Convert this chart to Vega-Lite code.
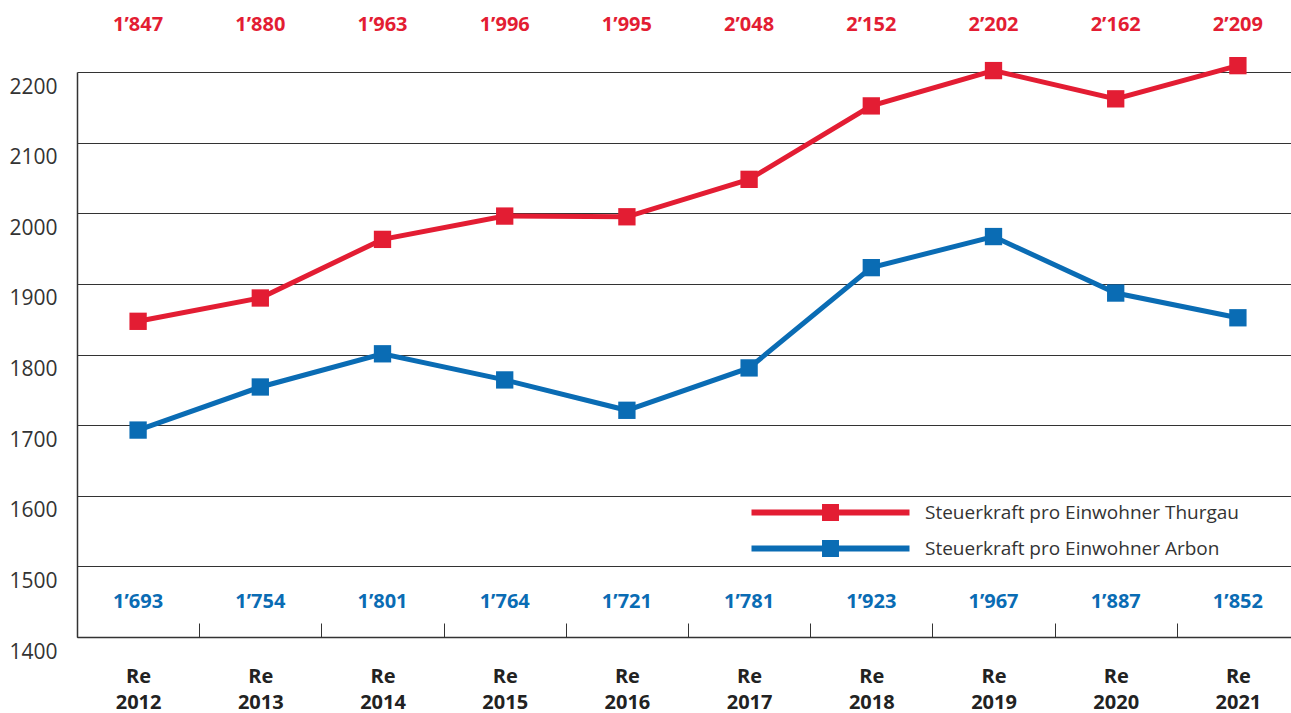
{
  "$schema": "https://vega.github.io/schema/vega-lite/v6.json",
  "autosize": "none",
  "padding": {"left": 77, "top": 72, "right": 0, "bottom": 76},
  "width": 1214,
  "height": 565,
  "background": "white",
  "config": {
    "font": "Open Sans",
    "view": {"stroke": null},
    "locale": {"number": {"decimal": ".", "thousands": "’", "grouping": [3], "currency": ["", ""]}}
  },
  "data": {
    "values": [
      {"jahr": "Re 2012", "serie": "Steuerkraft pro Einwohner Thurgau", "wert": 1847},
      {"jahr": "Re 2013", "serie": "Steuerkraft pro Einwohner Thurgau", "wert": 1880},
      {"jahr": "Re 2014", "serie": "Steuerkraft pro Einwohner Thurgau", "wert": 1963},
      {"jahr": "Re 2015", "serie": "Steuerkraft pro Einwohner Thurgau", "wert": 1996},
      {"jahr": "Re 2016", "serie": "Steuerkraft pro Einwohner Thurgau", "wert": 1995},
      {"jahr": "Re 2017", "serie": "Steuerkraft pro Einwohner Thurgau", "wert": 2048},
      {"jahr": "Re 2018", "serie": "Steuerkraft pro Einwohner Thurgau", "wert": 2152},
      {"jahr": "Re 2019", "serie": "Steuerkraft pro Einwohner Thurgau", "wert": 2202},
      {"jahr": "Re 2020", "serie": "Steuerkraft pro Einwohner Thurgau", "wert": 2162},
      {"jahr": "Re 2021", "serie": "Steuerkraft pro Einwohner Thurgau", "wert": 2209},
      {"jahr": "Re 2012", "serie": "Steuerkraft pro Einwohner Arbon", "wert": 1693},
      {"jahr": "Re 2013", "serie": "Steuerkraft pro Einwohner Arbon", "wert": 1754},
      {"jahr": "Re 2014", "serie": "Steuerkraft pro Einwohner Arbon", "wert": 1801},
      {"jahr": "Re 2015", "serie": "Steuerkraft pro Einwohner Arbon", "wert": 1764},
      {"jahr": "Re 2016", "serie": "Steuerkraft pro Einwohner Arbon", "wert": 1721},
      {"jahr": "Re 2017", "serie": "Steuerkraft pro Einwohner Arbon", "wert": 1781},
      {"jahr": "Re 2018", "serie": "Steuerkraft pro Einwohner Arbon", "wert": 1923},
      {"jahr": "Re 2019", "serie": "Steuerkraft pro Einwohner Arbon", "wert": 1967},
      {"jahr": "Re 2020", "serie": "Steuerkraft pro Einwohner Arbon", "wert": 1887},
      {"jahr": "Re 2021", "serie": "Steuerkraft pro Einwohner Arbon", "wert": 1852}
    ]
  },
  "encoding": {
    "x": {
      "field": "jahr",
      "type": "ordinal",
      "sort": null,
      "scale": {"paddingInner": 0, "paddingOuter": 0, "range": [0, 1222]},
      "axis": {
        "title": null,
        "labelAngle": 0,
        "labelExpr": "split(datum.label, ' ')",
        "labelFontSize": 20,
        "labelFontWeight": "bold",
        "labelColor": "#222222",
        "labelLineHeight": 26,
        "labelPadding": 43,
        "labelBaseline": "top",
        "domain": true,
        "domainColor": "#333333",
        "domainWidth": 1.5,
        "ticks": true,
        "tickBand": "extent",
        "tickSize": -14,
        "tickColor": "#333333",
        "tickWidth": 1,
        "grid": false
      }
    }
  },
  "layer": [
    {
      "mark": {"type": "line", "strokeWidth": 5},
      "encoding": {
        "y": {
          "field": "wert",
          "type": "quantitative",
          "scale": {"domain": [1400, 2200], "nice": false, "zero": false},
          "axis": {
            "title": null,
            "values": [1400, 1500, 1600, 1700, 1800, 1900, 2000, 2100, 2200],
            "format": "d",
            "labelFontSize": 21,
            "labelColor": "#333333",
            "labelPadding": 20,
            "labelBaseline": "top",
            "labelOffset": 4,
            "ticks": false,
            "domain": true,
            "domainColor": "#333333",
            "domainWidth": 1.5,
            "grid": true,
            "gridColor": "#333333",
            "gridWidth": 1,
            "gridOpacity": 1
          }
        },
        "color": {
          "field": "serie",
          "type": "nominal",
          "scale": {
            "domain": ["Steuerkraft pro Einwohner Thurgau", "Steuerkraft pro Einwohner Arbon"],
            "range": ["#e31d33", "#0a6cb4"]
          },
          "legend": {
            "title": null,
            "orient": "none",
            "legendX": 744,
            "legendY": 431,
            "symbolType": "M-9.875,-0.36H9.875V0.36H-9.875Z M-1.06,-1.06H1.06V1.06H-1.06Z",
            "symbolSize": 256,
            "symbolStrokeWidth": 0,
            "labelFontSize": 19,
            "labelColor": "#333333",
            "labelOffset": 85,
            "labelLimit": 500,
            "rowPadding": 16,
            "encode": {
              "symbols": {
                "update": {
                  "fill": {"scale": "color", "field": "value"},
                  "stroke": {"value": "transparent"},
                  "opacity": {"value": 1}
                }
              }
            }
          }
        }
      }
    },
    {
      "mark": {"type": "point", "shape": "square", "filled": true, "size": 300, "opacity": 1},
      "encoding": {
        "y": {"field": "wert", "type": "quantitative"},
        "color": {"field": "serie", "type": "nominal"}
      }
    },
    {
      "transform": [{"filter": "datum.serie == 'Steuerkraft pro Einwohner Thurgau'"}],
      "mark": {"type": "text", "fontSize": 20, "fontWeight": "bold", "color": "#e31d33", "baseline": "middle"},
      "encoding": {
        "y": {"datum": 2266, "type": "quantitative"},
        "text": {"field": "wert", "type": "quantitative", "format": ","}
      }
    },
    {
      "transform": [{"filter": "datum.serie == 'Steuerkraft pro Einwohner Arbon'"}],
      "mark": {"type": "text", "fontSize": 20, "fontWeight": "bold", "color": "#0a6cb4", "baseline": "middle"},
      "encoding": {
        "y": {"datum": 1450, "type": "quantitative"},
        "text": {"field": "wert", "type": "quantitative", "format": ","}
      }
    }
  ]
}
